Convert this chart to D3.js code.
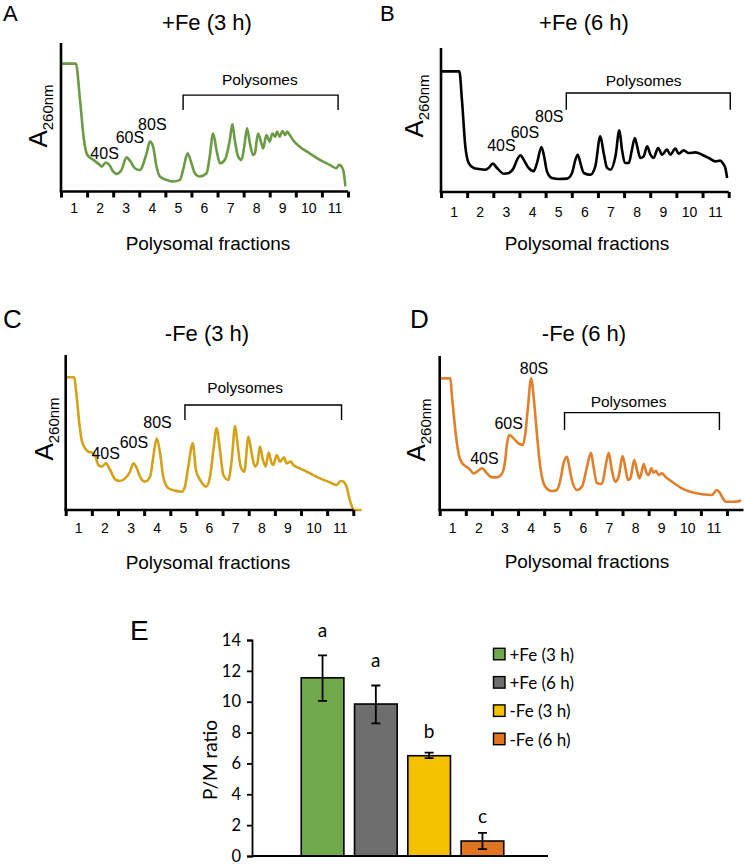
<!DOCTYPE html>
<html><head><meta charset="utf-8">
<script src="https://cdn.jsdelivr.net/npm/d3@7"></script>
<style>body{margin:0;background:#fff} svg{display:block}</style>
</head><body><svg id="c" width="745" height="865"></svg>
<script>
// ---------- DATA ----------
const fractionLabels = [1,2,3,4,5,6,7,8,9,10,11];

const fracA = [0,0.57,0.73,0.88,1.01,1.24,1.49,1.56,1.72,1.85,2.00,2.13,2.32,2.51,2.67,2.83,3.02,3.28,3.41,3.53,3.66,3.79,4.05,4.30,4.56,4.68,4.85,5.00,5.13,5.32,5.58,5.70,5.83,5.96,6.09,6.28,6.47,6.57,6.66,6.79,6.92,7.04,7.13,7.24,7.36,7.43,7.55,7.68,7.75,7.87,8.00,8.10,8.21,8.28,8.38,8.49,8.59,8.67,8.77,8.89,9.15,9.53,9.92,10.30,10.55,10.66,10.75,10.83,10.90];
const absA  = [0.861,0.861,0.615,0.347,0.246,0.213,0.179,0.168,0.195,0.179,0.134,0.119,0.145,0.230,0.201,0.157,0.145,0.257,0.336,0.302,0.168,0.101,0.078,0.067,0.078,0.145,0.257,0.190,0.123,0.101,0.123,0.235,0.391,0.280,0.190,0.213,0.347,0.454,0.347,0.235,0.213,0.324,0.425,0.324,0.246,0.257,0.391,0.324,0.291,0.380,0.336,0.391,0.369,0.403,0.369,0.407,0.380,0.403,0.380,0.347,0.302,0.257,0.213,0.179,0.157,0.179,0.168,0.134,0.034];

const fracB = [0,0.70,0.80,0.93,1.06,1.25,1.44,1.70,1.82,1.98,2.14,2.40,2.59,2.78,2.91,3.04,3.16,3.35,3.54,3.67,3.84,3.93,4.05,4.24,4.50,4.82,5.01,5.14,5.23,5.33,5.46,5.71,5.90,6.09,6.22,6.35,6.48,6.67,6.82,6.92,7.05,7.18,7.30,7.41,7.50,7.62,7.75,7.88,8.01,8.13,8.30,8.45,8.64,8.77,8.96,9.09,9.28,9.47,9.73,9.98,10.24,10.49,10.68,10.77,10.87,10.94];
const absB  = [0.838,0.838,0.641,0.317,0.201,0.167,0.160,0.155,0.167,0.197,0.167,0.127,0.132,0.167,0.225,0.255,0.225,0.167,0.144,0.201,0.313,0.259,0.144,0.097,0.090,0.093,0.132,0.225,0.259,0.201,0.132,0.120,0.178,0.387,0.271,0.167,0.155,0.248,0.428,0.294,0.201,0.201,0.294,0.375,0.317,0.236,0.248,0.317,0.259,0.236,0.306,0.259,0.294,0.259,0.301,0.266,0.289,0.271,0.275,0.259,0.236,0.213,0.218,0.201,0.167,0.097];

const fracC = [0,0.32,0.42,0.52,0.61,0.74,0.87,1.03,1.12,1.25,1.38,1.54,1.70,1.89,2.08,2.27,2.46,2.59,2.72,2.84,3.03,3.23,3.35,3.48,3.61,3.73,3.93,4.18,4.44,4.56,4.69,4.86,4.98,5.14,5.37,5.52,5.65,5.77,5.90,6.03,6.22,6.35,6.48,6.57,6.69,6.83,6.99,7.11,7.24,7.33,7.43,7.53,7.65,7.76,7.88,7.94,8.07,8.20,8.35,8.45,8.60,8.71,8.96,9.34,9.73,10.11,10.36,10.52,10.62,10.75,10.85,10.94,11.03,11.32];
const absC  = [0.856,0.856,0.731,0.559,0.452,0.398,0.376,0.370,0.355,0.290,0.280,0.301,0.258,0.198,0.187,0.204,0.247,0.301,0.269,0.215,0.183,0.215,0.344,0.462,0.366,0.215,0.140,0.125,0.118,0.151,0.280,0.430,0.258,0.194,0.151,0.215,0.387,0.527,0.387,0.226,0.194,0.323,0.542,0.430,0.280,0.247,0.473,0.366,0.280,0.301,0.409,0.333,0.280,0.370,0.301,0.290,0.355,0.312,0.340,0.301,0.312,0.290,0.269,0.237,0.204,0.178,0.161,0.187,0.183,0.146,0.075,0.026,0,0];

const fracD = [0,0.41,0.47,0.57,0.66,0.75,0.85,0.98,1.11,1.30,1.43,1.62,1.81,2.00,2.19,2.39,2.51,2.58,2.67,2.83,3.02,3.18,3.28,3.38,3.50,3.62,3.72,3.85,4.04,4.30,4.49,4.62,4.74,4.87,4.96,5.06,5.26,5.45,5.64,5.79,5.89,6.02,6.21,6.37,6.47,6.59,6.72,6.85,7.00,7.10,7.21,7.30,7.45,7.55,7.64,7.72,7.81,7.90,8.00,8.10,8.19,8.28,8.38,8.51,8.64,8.89,9.27,9.66,10.04,10.42,10.61,10.74,10.87,10.96,11.19,11.44,11.54];
const absD  = [0.855,0.855,0.736,0.563,0.433,0.346,0.307,0.286,0.271,0.238,0.249,0.271,0.238,0.212,0.212,0.238,0.325,0.433,0.487,0.465,0.433,0.422,0.498,0.671,0.855,0.693,0.498,0.281,0.152,0.123,0.130,0.195,0.303,0.346,0.281,0.195,0.130,0.152,0.281,0.372,0.281,0.173,0.169,0.303,0.372,0.260,0.184,0.216,0.351,0.281,0.195,0.206,0.325,0.260,0.206,0.238,0.299,0.249,0.227,0.271,0.242,0.255,0.227,0.238,0.216,0.184,0.141,0.115,0.102,0.097,0.130,0.108,0.069,0.054,0.054,0.056,0.065];

const peakNames = ['40S','60S','80S'];

const categoriesE = ['+Fe (3 h)','+Fe (6 h)','-Fe (3 h)','-Fe (6 h)'];
const ratioE   = [11.55, 9.85, 6.5, 0.97];
const errLowE  = [10.05, 8.6, 6.35, 0.45];
const errHighE = [13.0, 11.05, 6.7, 1.5];
const lettersE = ['a','a','b','c'];
const letterLevelE = [14.2, 12.25, 7.65, 2.16];
const ticksE = [0,2,4,6,8,10,12,14];

// ---------- PANELS A-D ----------
const svg = d3.select('#c');
const SANS = '"Liberation Sans", Arial, Helvetica, sans-serif';

const panels = [
  {letter:'A', lx:3, ly:20.5, ls:22, title:'+Fe (3 h)', tx:207, ty:29.5,
   x0:61, x11:348, xEnd:11, yTop:43, yBase:191.5, frac:fracA, abs:absA, color:'#6B9B46',
   ylx:47, yly:116, tly:213, xlx:208, xly:249.5,
   br:[4.68,10.62,0.649,0.548], poly:[7.62,0.716],
   peaks:[[1.67,0.219],[2.64,0.329],[3.50,0.414]]},
  {letter:'B', lx:380, ly:20.5, ls:22, title:'+Fe (6 h)', tx:584, ty:29.5,
   x0:441, x11:728.7, xEnd:11, yTop:48, yBase:192, frac:fracB, abs:absB, color:'#000000',
   ylx:423, yly:106, tly:216.5, xlx:587, xly:249.5,
   br:[4.79,11.06,0.688,0.572], poly:[7.75,0.738],
   peaks:[[2.31,0.282],[3.21,0.375],[4.14,0.484]]},
  {letter:'C', lx:3, ly:328, ls:26, title:'-Fe (3 h)', tx:207, ty:341,
   x0:65.7, x11:353.3, xEnd:11, yTop:355, yBase:510, frac:fracC, abs:absC, color:'#D4A21A',
   ylx:53, yly:429, tly:533, xlx:208, xly:569,
   br:[4.56,10.55,0.677,0.581], poly:[6.86,0.753],
   peaks:[[1.53,0.327],[2.61,0.398],[3.51,0.527]]},
  {letter:'D', lx:410, ly:328, ls:26, title:'-Fe (6 h)', tx:584, ty:341,
   x0:439.7, x11:727, xEnd:11.63, yTop:356, yBase:510, frac:fracD, abs:absD, color:'#E07F2C',
   ylx:425, yly:430, tly:533, xlx:587, xly:568,
   br:[4.78,10.71,0.632,0.519], poly:[7.23,0.671],
   peaks:[[1.71,0.297],[2.64,0.526],[3.61,0.883]]}
];

panels.forEach(p => {
  const g = svg.append('g').style('font-family', SANS);
  const x = d3.scaleLinear().domain([0, 11]).range([p.x0, p.x11]);
  const y = d3.scaleLinear().domain([0, 1]).range([p.yBase, p.yTop]);

  // letter & title
  g.append('text').attr('x', p.lx).attr('y', p.ly).attr('font-size', p.ls).text(p.letter);
  g.append('text').attr('x', p.tx).attr('y', p.ty).attr('font-size', 22)
    .attr('text-anchor','middle').text(p.title);

  // curve
  const pts = p.frac.map((f, i) => [f, p.abs[i]]);
  g.append('path').datum(pts)
    .attr('d', d3.line().x(d => x(d[0])).y(d => y(d[1])).curve(d3.curveMonotoneX))
    .attr('fill','none').attr('stroke', p.color).attr('stroke-width', 2.6)
    .attr('stroke-linejoin','round');

  // axes
  g.append('line').attr('x1', x(0)).attr('x2', x(0)).attr('y1', y(1)).attr('y2', y(0))
    .attr('stroke','#000').attr('stroke-width',2.6);
  g.append('line').attr('x1', x(0)-1.3).attr('x2', x(p.xEnd)).attr('y1', y(0)).attr('y2', y(0))
    .attr('stroke','#000').attr('stroke-width',2.6);
  const ax = g.append('g').attr('transform', `translate(0,${y(0)})`)
    .call(d3.axisBottom(x).tickValues(d3.range(0, 12)).tickSize(6).tickFormat(''));
  ax.select('.domain').remove();
  ax.selectAll('.tick line').attr('stroke','#000').attr('stroke-width',3);

  // fraction labels (centred in each fraction)
  g.selectAll('.fl').data(fractionLabels).enter().append('text')
    .attr('x', d => x(d - 0.5)).attr('y', p.tly).attr('text-anchor','middle')
    .attr('font-size', 14).text(d => d);

  // x label
  g.append('text').attr('x', p.xlx).attr('y', p.xly).attr('text-anchor','middle')
    .attr('font-size', 19).text('Polysomal fractions');

  // y label A260nm
  const yl = g.append('text').attr('transform', `translate(${p.ylx},${p.yly}) rotate(-90)`)
    .attr('text-anchor','middle');
  yl.append('tspan').attr('font-size', 26).text('A');
  yl.append('tspan').attr('font-size', 15).attr('dy', 6).text('260nm');

  // bracket
  const [bl, br, bt, bb] = p.br;
  g.append('path')
    .attr('d', `M${x(bl)},${y(bb)}V${y(bt)}H${x(br)}V${y(bb)}`)
    .attr('fill','none').attr('stroke','#000').attr('stroke-width',1.4);
  g.append('text').attr('x', x(p.poly[0])).attr('y', y(p.poly[1]))
    .attr('text-anchor','middle').attr('font-size', 15.5).text('Polysomes');

  // peak labels
  p.peaks.forEach((pk, i) => {
    g.append('text').attr('x', x(pk[0])).attr('y', y(pk[1]))
      .attr('text-anchor','middle').attr('font-size', 16).text(peakNames[i]);
  });
});

// ---------- PANEL E ----------
const LATO = 'Lato, "Open Sans", sans-serif';
const colorsE = ['#70A94C','#6E6E6E','#F3C100','#E07420'];
const gE = svg.append('g').style('font-family', LATO);
const yE = d3.scaleLinear().domain([0, 14]).range([856, 640]);
const xE = d3.scaleBand().domain(categoriesE).range([295.9, 509.1]).paddingInner(0.2).paddingOuter(0.1);
const axisX0 = 252, axisX1 = 548;

gE.append('text').attr('x', 130).attr('y', 640).attr('font-size', 28)
  .style('font-family', SANS).text('E');

// y axis
const yAx = gE.append('g').attr('transform', `translate(${axisX0},0)`)
  .call(d3.axisLeft(yE).tickValues(ticksE).tickSize(5).tickPadding(6));
yAx.select('.domain').attr('stroke','#000').attr('stroke-width',1.8);
yAx.selectAll('.tick line').attr('stroke','#000').attr('stroke-width',1.8);
yAx.selectAll('.tick text').attr('font-size', 16.5).attr('fill','#000').style('font-family', LATO);

gE.append('text').attr('transform', `translate(217,760) rotate(-90)`)
  .attr('text-anchor','middle').attr('font-size', 19).text('P/M ratio');

// bars
gE.selectAll('.bar').data(categoriesE).enter().append('rect')
  .attr('x', d => xE(d)).attr('width', xE.bandwidth())
  .attr('y', (d, i) => yE(ratioE[i])).attr('height', (d, i) => yE(0) - yE(ratioE[i]))
  .attr('fill', (d, i) => colorsE[i]).attr('stroke','#000').attr('stroke-width',1.6);

// x axis line
gE.append('line').attr('x1', axisX0).attr('x2', axisX1).attr('y1', yE(0)).attr('y2', yE(0))
  .attr('stroke','#000').attr('stroke-width',1.8);

// error bars
categoriesE.forEach((c, i) => {
  const cx = xE(c) + xE.bandwidth() / 2;
  gE.append('path')
    .attr('d', `M${cx},${yE(errLowE[i])}V${yE(errHighE[i])}M${cx-4.5},${yE(errLowE[i])}h9M${cx-4.5},${yE(errHighE[i])}h9`)
    .attr('stroke','#000').attr('stroke-width',1.8).attr('fill','none');
  gE.append('text').attr('x', cx).attr('y', yE(letterLevelE[i])).attr('text-anchor','middle')
    .attr('font-size', 19).text(lettersE[i]);
});

// legend
const lg = gE.append('g');
categoriesE.forEach((c, i) => {
  const yy = 648.3 + i * 28.3;
  lg.append('rect').attr('x', 493.5).attr('y', yy).attr('width', 11.5).attr('height', 11.5)
    .attr('fill', colorsE[i]).attr('stroke','#000').attr('stroke-width',1.4);
  lg.append('text').attr('x', 509.5).attr('y', yy + 12.3).attr('font-size', 17).text(c);
});
</script>
</body></html>
